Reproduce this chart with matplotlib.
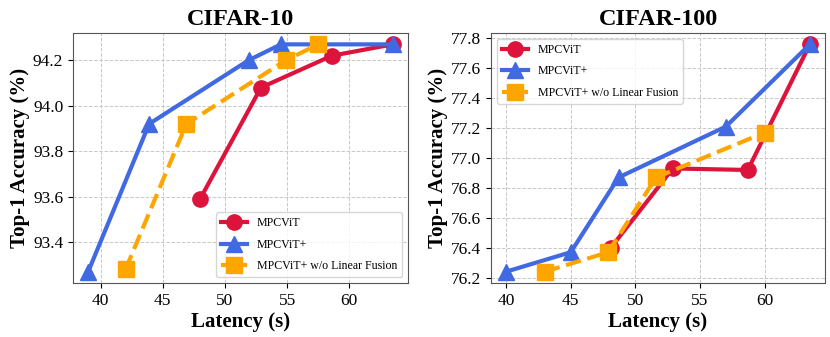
import matplotlib
matplotlib.use("Agg")
import matplotlib.pyplot as plt

# CIFAR-10
c10_mpcvit_x = [48.0, 52.9, 58.6, 63.5]
c10_mpcvit_y = [93.59, 94.08, 94.22, 94.27]
c10_plus_x = [39.0, 43.9, 51.9, 54.5, 63.5]
c10_plus_y = [93.27, 93.92, 94.20, 94.27, 94.27]
c10_nolf_x = [42.0, 46.9, 54.9, 57.5]
c10_nolf_y = [93.28, 93.92, 94.20, 94.27]

# CIFAR-100
c100_mpcvit_x = [48.1, 52.9, 58.7, 63.5]
c100_mpcvit_y = [76.40, 76.93, 76.92, 77.76]
c100_plus_x = [40.0, 45.0, 48.7, 57.0, 63.5]
c100_plus_y = [76.24, 76.37, 76.87, 77.21, 77.76]
c100_nolf_x = [43.0, 47.9, 51.6, 60.0]
c100_nolf_y = [76.24, 76.37, 76.87, 77.17]

labels = ["MPCViT", "MPCViT+", "MPCViT+ w/o Linear Fusion"]

plt.rcParams["font.family"] = ["Liberation Serif", "DejaVu Serif"]

fig = plt.figure(figsize=(8.3, 3.37), dpi=100)
ax1 = fig.add_axes([73 / 830, 1 - 283 / 337, 335 / 830, 250 / 337])
ax2 = fig.add_axes([491 / 830, 1 - 283 / 337, 334 / 830, 250 / 337])


def draw(ax, data, title, yticks, legend_loc):
    (mx, my), (px, py), (nx, ny) = data
    ax.plot(mx, my, color="#DC143C", lw=3, marker="o", ms=11, label=labels[0], zorder=3)
    ax.plot(px, py, color="#4169E1", lw=3, marker="^", ms=11, label=labels[1], zorder=3)
    ax.plot(nx, ny, color="#FFA500", lw=3, ls="--", marker="s", ms=11, label=labels[2], zorder=3)
    ax.set_title(title, fontsize=17.5, fontweight="bold", pad=6)
    ax.set_xlabel("Latency (s)", fontsize=15, fontweight="bold", labelpad=2)
    ax.set_ylabel("Top-1 Accuracy (%)", fontsize=15, fontweight="bold", labelpad=2)
    ax.set_xticks([40, 45, 50, 55, 60])
    ax.set_yticks(yticks)
    ax.set_yticklabels([f"{v:.1f}" for v in yticks])
    ax.tick_params(labelsize=12.5)
    ax.grid(True, ls="--", color="#c8c8c8", lw=0.7)
    for s in ax.spines.values():
        s.set_color("#555555")
    ax.legend(loc=legend_loc, fontsize=8.6, markerscale=1.0, handlelength=2.2,
              labelspacing=0.8, framealpha=0.8)


draw(ax1, [(c10_mpcvit_x, c10_mpcvit_y), (c10_plus_x, c10_plus_y), (c10_nolf_x, c10_nolf_y)],
     "CIFAR-10", [93.4, 93.6, 93.8, 94.0, 94.2], "lower right")
draw(ax2, [(c100_mpcvit_x, c100_mpcvit_y), (c100_plus_x, c100_plus_y), (c100_nolf_x, c100_nolf_y)],
     "CIFAR-100", [76.2, 76.4, 76.6, 76.8, 77.0, 77.2, 77.4, 77.6, 77.8], "upper left")

fig.savefig("out.png", dpi=100)
